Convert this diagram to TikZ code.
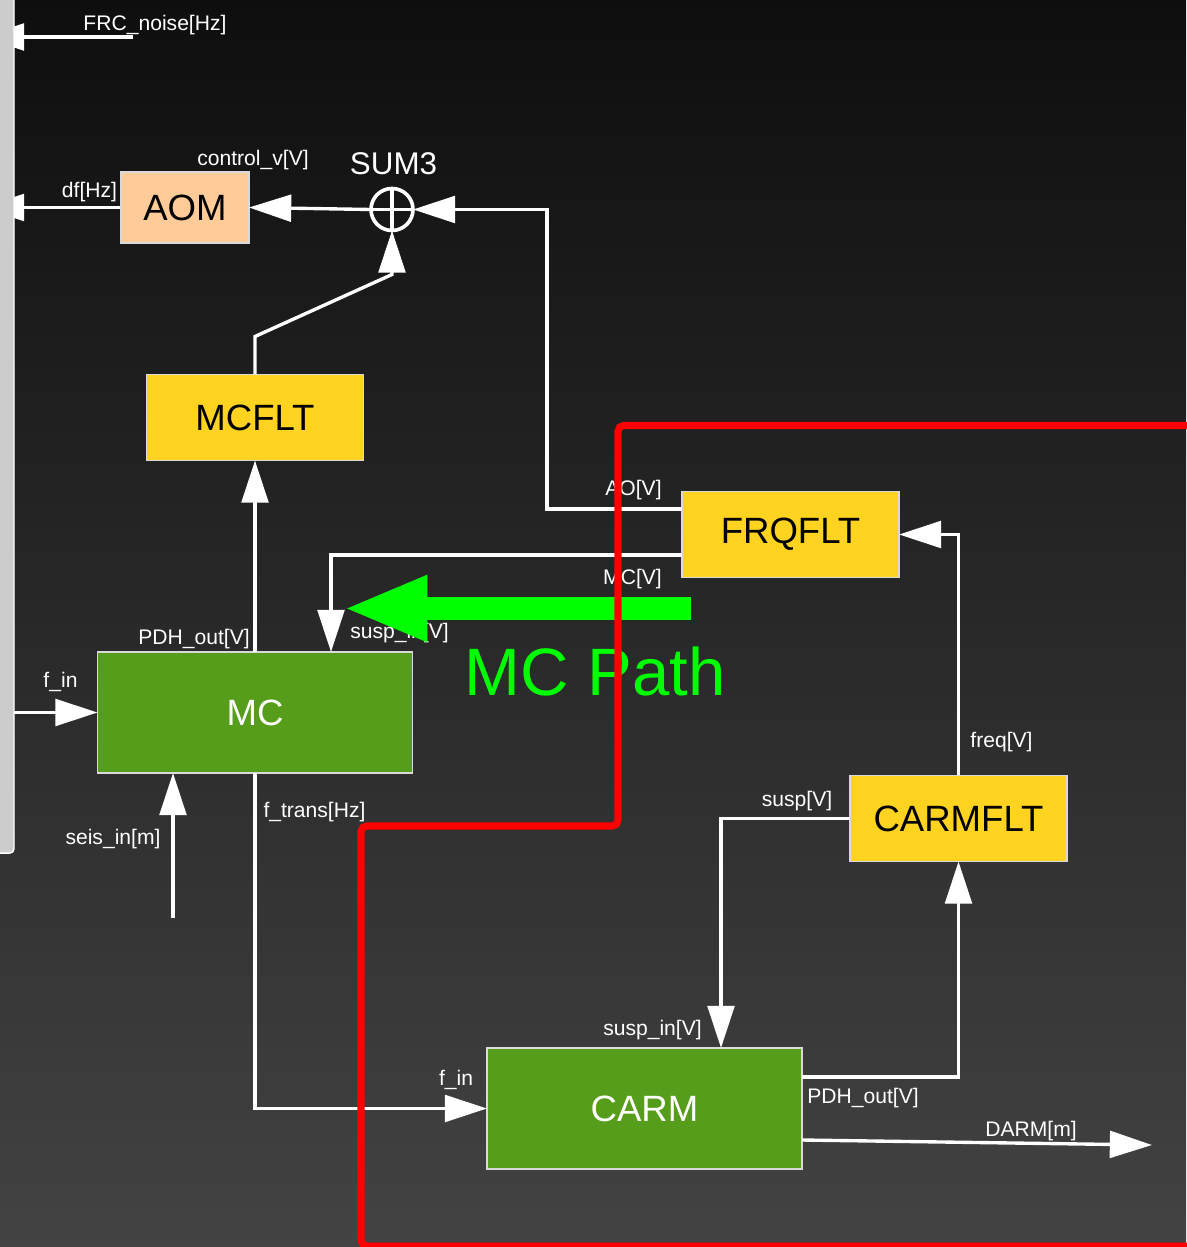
\documentclass[tikz,border=0pt]{standalone}
\usepackage{fontspec}
\setmainfont{Liberation Sans}
\usepackage{xcolor}
\usepackage{tikz}
\definecolor{loopBgTop}{HTML}{0E0E0E}
\definecolor{loopBgBottom}{HTML}{434343}
\definecolor{loopPeach}{HTML}{FFCC99}
\definecolor{loopYellow}{HTML}{FFD320}
\definecolor{loopGreen}{HTML}{579D1C}
\definecolor{loopEdge}{HTML}{D9D9D9}
\definecolor{loopBar}{HTML}{CCCCCC}
\definecolor{pathGreen}{HTML}{00FF00}
\definecolor{pathRed}{HTML}{FF0000}
\usetikzlibrary{arrows.meta,calc}
\pgfdeclarelayer{background}
\pgfdeclarelayer{under}
\pgfsetlayers{background,under,main}

\begin{document}
\begin{tikzpicture}[
  x=0.025cm, y=-0.025cm,
  block/.style={
    draw=loopEdge,
    line width=0.8pt,
    rectangle,
    inner sep=0pt,
    outer sep=0pt,
    font=\fontsize{26}{30}\selectfont
  },
  filt/.style={block, fill=loopYellow, text=black, minimum width=5.425cm, minimum height=2.15cm},
  plant/.style={block, fill=loopGreen, text=white, minimum width=7.875cm, minimum height=3.025cm},
  sumnode/.style={circle, draw=white, line width=2.6pt, minimum size=1.05cm, inner sep=0pt, outer sep=0pt},
  barbox/.style={draw=white, fill=loopBar, line width=1pt, rounded corners=3pt,
    minimum width=1.6cm, minimum height=22.075cm, inner sep=0pt, outer sep=0pt},
  sig/.style={draw=white, line width=2.4pt, -{Triangle[length=30pt,width=19pt]}},
  lbl/.style={text=white, font=\fontsize{15}{18}\selectfont, inner sep=0pt, anchor=base},
  mcarrow/.style={draw=pathGreen, line width=16.4pt, -{Triangle[length=60pt,width=43pt]}},
  pathlbl/.style={text=pathGreen, font=\fontsize{47.7}{56}\selectfont, inner sep=0pt, anchor=base},
  highlight/.style={draw=pathRed, line width=5pt, rounded corners=4}
]
\useasboundingbox (0,0) rectangle (1186,1247);
\begin{pgfonlayer}{background}
\shade[top color=loopBgTop, bottom color=loopBgBottom] (0,0) rectangle (1186,1247);
\end{pgfonlayer}

% Blocks
\node[block, fill=loopPeach, text=black, minimum width=3.2cm, minimum height=1.775cm] (aom) at (185,207.5) {AOM};
\node[sumnode] (sum) at (392,209.5) {};
\draw[white, line width=2.6pt] (sum.north) -- (sum.south) (sum.west) -- (sum.east);
\node[filt] (mcflt) at (255,417.5) {MCFLT};
\node[filt] (frqflt) at (790.5,534.5) {FRQFLT};
\node[filt] (carmflt) at (958.5,818.5) {CARMFLT};
\node[plant] (mc) at (255,712.5) {MC};
\node[plant] (carm) at (644.5,1108.5) {CARM};
\node[barbox] (frc) at (-18,411.5) {};

\coordinate (frcsrc) at (133,37);
\coordinate (aoturn) at (547,209.5);
\coordinate (seissrc) at (173,918);
\coordinate (darmend) at (1152,1145);
\coordinate (mcpathtail) at (691,608.5);
\coordinate (mcpathtip) at (343,608.5);

% Relations
\begin{pgfonlayer}{under}
\draw[sig] (frcsrc) -- (frcsrc -| frc.center);
\draw[sig] (aom.west) -- (aom.west -| frc.center);
\end{pgfonlayer}
\draw[sig] (sum.west) -- (aom.east);
\draw[sig] ($(frqflt.west)+(0,-25.5)$) -| (aoturn) -- (sum.east);
\draw[sig] (mcflt.north) -- ++(0,-38) -- ($(sum.south)+(0,44)$) -- (sum.south);
\draw[sig] (mc.north) -- (mcflt.south);
\draw[sig] ($(frqflt.west)+(0,20.5)$) -| ($(mc.north)+(76,0)$);
\draw[sig] (carmflt.north) |- (frqflt.east);
\draw[sig] (carmflt.west) -| ($(carm.north)+(76.5,0)$);
\draw[sig] ($(carm.east)+(0,-31.5)$) -| (carmflt.south);
\draw[sig] ($(carm.east)+(0,31.5)$) -- (darmend);
\draw[sig] (mc.south) |- (carm.west);
\draw[sig] (frc.east |- mc.west) -- (mc.west);
\draw[sig] (seissrc) -- (seissrc |- mc.south);

% Port labels
\node[lbl] (frcnoise) at (155,30.5) {FRC\_noise[Hz]};
\node[lbl] (dfout) at (89.5,197.5) {df[Hz]};
\node[lbl] (ctrlin) at (253,165.5) {control\_v[V]};
\node[lbl, font=\fontsize{22.3}{26}\selectfont] (sumname) at (393.5,175) {SUM3};
\node[lbl] (aoout) at (633.5,495.5) {AO[V]};
\node[lbl] (mcout) at (632.5,584.5) {MC[V]};
\node[lbl] (mcpdh) at (194,644.5) {PDH\_out[V]};
\node[lbl] (mcsusp) at (399.5,638) {susp\_in[V]};
\node[lbl] (mcfin) at (60.5,687) {f\_in};
\node[lbl] (mcseis) at (113,844) {seis\_in[m]};
\node[lbl] (mctrans) at (314.5,817) {f\_trans[Hz]};
\node[lbl] (freqout) at (1001.5,747.5) {freq[V]};
\node[lbl] (suspout) at (797,806) {susp[V]};
\node[lbl] (carmsusp) at (652.5,1035) {susp\_in[V]};
\node[lbl] (carmfin) at (456,1085) {f\_in};
\node[lbl] (carmpdh) at (863,1103) {PDH\_out[V]};
\node[lbl] (darmout) at (1031,1136) {DARM[m]};

% MC path marker
\draw[mcarrow] (mcpathtail) -- (mcpathtip);
\node[pathlbl] (mcpath) at (595,695) {MC Path};
\draw[highlight] (1200,425.5) -| (618,826) -| (361,1246) -- (1200,1246);

\end{tikzpicture}
\end{document}
